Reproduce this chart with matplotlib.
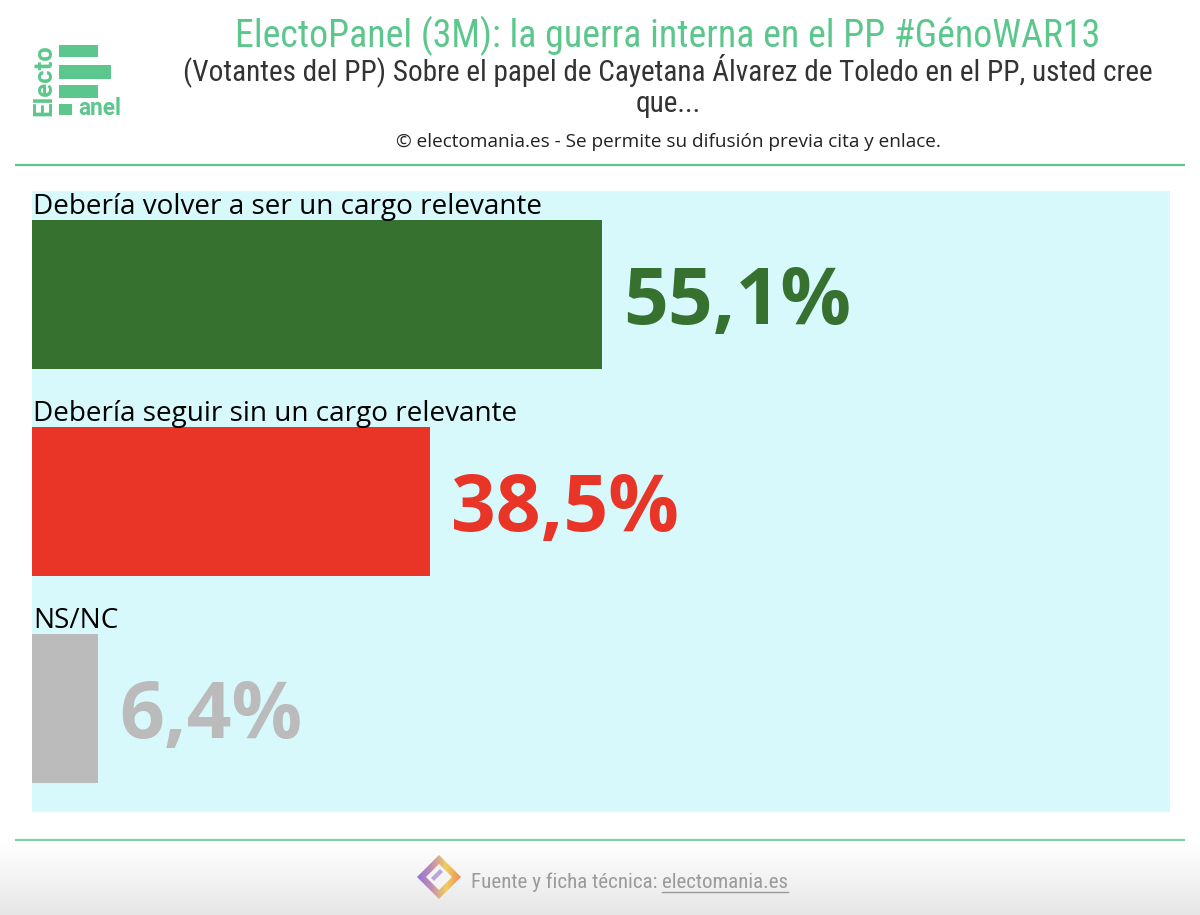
import matplotlib
matplotlib.use('Agg')
import matplotlib.pyplot as plt
import numpy as np
from matplotlib import font_manager
from matplotlib.patches import Rectangle, Polygon
from matplotlib.colors import LinearSegmentedColormap

# ---------------- data ----------------
categories = ["Debería volver a ser un cargo relevante",
              "Debería seguir sin un cargo relevante",
              "NS/NC"]
values = [55.1, 38.5, 6.4]
value_labels = ["55,1%", "38,5%", "6,4%"]
bar_colors = ["#367130", "#E93527", "#BBBBBB"]

title = "ElectoPanel (3M): la guerra interna en el PP #GénoWAR13"
subtitle = ("(Votantes del PP) Sobre el papel de Cayetana Álvarez de Toledo en el PP, usted cree\n"
            "que...")
credit = "© electomania.es - Se permite su difusión previa cita y enlace."
footer_1 = "Fuente y ficha técnica: "
footer_2 = "electomania.es"

GREEN = "#5CC78C"
W, H = 1200, 915

names = {f.name for f in font_manager.fontManager.ttflist}
COND = 'Roboto Condensed' if 'Roboto Condensed' in names else 'Roboto'
SANS = 'Open Sans'

fig = plt.figure(figsize=(W / 100, H / 100), dpi=100)
fig.patch.set_facecolor('white')

# background / decoration axes in pixel coordinates
bg = fig.add_axes([0, 0, 1, 1])
bg.axis('off')

# footer gradient
grad = np.linspace(0, 1, 200).reshape(-1, 1)
gcmap = LinearSegmentedColormap.from_list('g', ['#FFFFFF', '#E6E6E6'])
bg.imshow(grad, extent=(0, W, 915, 843), cmap=gcmap, aspect='auto', origin='upper', zorder=0)

bg.set_xlim(0, W)
bg.set_ylim(H, 0)

# separator lines
bg.plot([15, 1185], [165, 165], color=GREEN, lw=1.6, solid_capstyle='butt')
bg.plot([15, 1185], [840, 840], color="#7FD3A2", lw=1.6, solid_capstyle='butt')

# logo
for (x0, y0, w, h) in [(59, 45, 39, 12), (59, 65, 52, 14), (59, 85, 39, 13), (59, 104, 13, 11)]:
    bg.add_patch(Rectangle((x0, y0), w, h, color=GREEN, lw=0))
t_logo1 = bg.text(44, 116, "Electo", rotation=90, ha='center', va='bottom',
                  color=GREEN, fontfamily='Roboto', fontweight='bold', fontsize=16)
t_logo2 = bg.text(78, 115, "anel", ha='left', va='baseline',
                  color=GREEN, fontfamily='Roboto', fontweight='bold', fontsize=17)

# header texts
t_title = bg.text(668, 47, title, ha='center', va='baseline', color=GREEN,
                  fontfamily=COND, fontsize=26)
t_sub = bg.text(668, 112, subtitle, ha='center', va='baseline', color='#333333',
                fontfamily=COND, fontsize=19, linespacing=1.12, multialignment='center')
t_credit = bg.text(668, 147, credit, ha='center', va='baseline', color='#222222',
                   fontfamily=SANS, fontsize=13)

# footer
t_f1 = bg.text(471, 888, footer_1.strip(), ha='left', va='baseline', color='#9A9A9A',
               fontfamily=COND, fontsize=15)
t_f2 = bg.text(662, 888, footer_2, ha='left', va='baseline', color='#9A9A9A',
               fontfamily=COND, fontsize=15)

# footer icon: diamond with gradient frame
cx, cy, r = 439, 877, 22
icon_img = np.linspace(0, 1, 100).reshape(1, -1) * np.ones((100, 1))
icmap = LinearSegmentedColormap.from_list('ic', ['#8F73D6', '#C48FB0', '#F0CF5E', '#EE8B55'])
diamond = Polygon([(cx, cy - r), (cx + r, cy), (cx, cy + r), (cx - r, cy)], closed=True,
                  facecolor='none', edgecolor='none', transform=bg.transData)
bg.add_patch(diamond)
im = bg.imshow(icon_img, extent=(cx - r, cx + r, cy + r, cy - r), cmap=icmap,
               aspect='auto', zorder=2)
im.set_clip_path(diamond)
ri = 13
bg.add_patch(Polygon([(cx, cy - ri), (cx + ri, cy), (cx, cy + ri), (cx - ri, cy)], closed=True,
                     facecolor='#F4F4F4', edgecolor='none', zorder=3))
bg.add_patch(Polygon([(cx - 8, cy + 1), (cx + 1, cy - 8), (cx + 4, cy - 5), (cx - 5, cy + 4)],
                     closed=True, facecolor='#B9A6D8', edgecolor='none', zorder=4))
bg.set_xlim(0, W)
bg.set_ylim(H, 0)

# ---------------- main chart ----------------
ax = fig.add_axes([32 / W, 1 - 812 / H, (1170 - 32) / W, (812 - 191) / H])
ax.set_facecolor('#D8F9FC')
ypos = np.arange(len(categories))
bar_h = 0.715
ax.barh(ypos, values, height=bar_h, color=bar_colors, linewidth=0)
ax.set_xlim(0, 110)
ax.set_ylim(len(categories) - 0.5, -0.5)
for s in ax.spines.values():
    s.set_visible(False)
ax.set_xticks([])
ax.set_yticks([])

label_texts = []
value_texts = []
for i, (cat, v, lab, c) in enumerate(zip(categories, values, value_labels, bar_colors)):
    t = ax.annotate(cat, xy=(0, i - bar_h / 2), xytext=(1, 5), textcoords='offset points',
                    ha='left', va='baseline', color='black', fontfamily=SANS, fontsize=20)
    label_texts.append(t)
    tv = ax.annotate(lab, xy=(v, i), xytext=(15, -21), textcoords='offset points',
                     ha='left', va='baseline', color=c, fontfamily=SANS, fontweight='bold',
                     fontsize=58)
    value_texts.append(tv)

# fit text widths to the reference
fig.canvas.draw()
rend = fig.canvas.get_renderer()


def fit(t, target):
    w = t.get_window_extent(rend).width
    if w > 0:
        t.set_fontsize(t.get_fontsize() * target / w)


def fit_h(t, target):
    h = t.get_window_extent(rend).height
    if h > 0:
        t.set_fontsize(t.get_fontsize() * target / h)


fit(t_title, 863)
fit(t_sub, 972)
fit(t_credit, 543)
fit(t_f1, 186)
fit(t_f2, 126)
fit_h(t_logo1, 72)
fit(t_logo2, 43)
fs_lab = label_texts[0].get_fontsize() * 509 / label_texts[0].get_window_extent(rend).width
for t in label_texts:
    t.set_fontsize(fs_lab)
fs_val = value_texts[0].get_fontsize() * 228 / value_texts[0].get_window_extent(rend).width
for t in value_texts:
    t.set_fontsize(fs_val)

fig.canvas.draw()
bb = t_f2.get_window_extent(rend)
x0, x1 = bb.x0, bb.x1
bg.plot([x0, x1], [892, 892], color='#9A9A9A', lw=1.0)
bg.set_xlim(0, W)
bg.set_ylim(H, 0)

fig.savefig('out.png', dpi=100, facecolor='white')
